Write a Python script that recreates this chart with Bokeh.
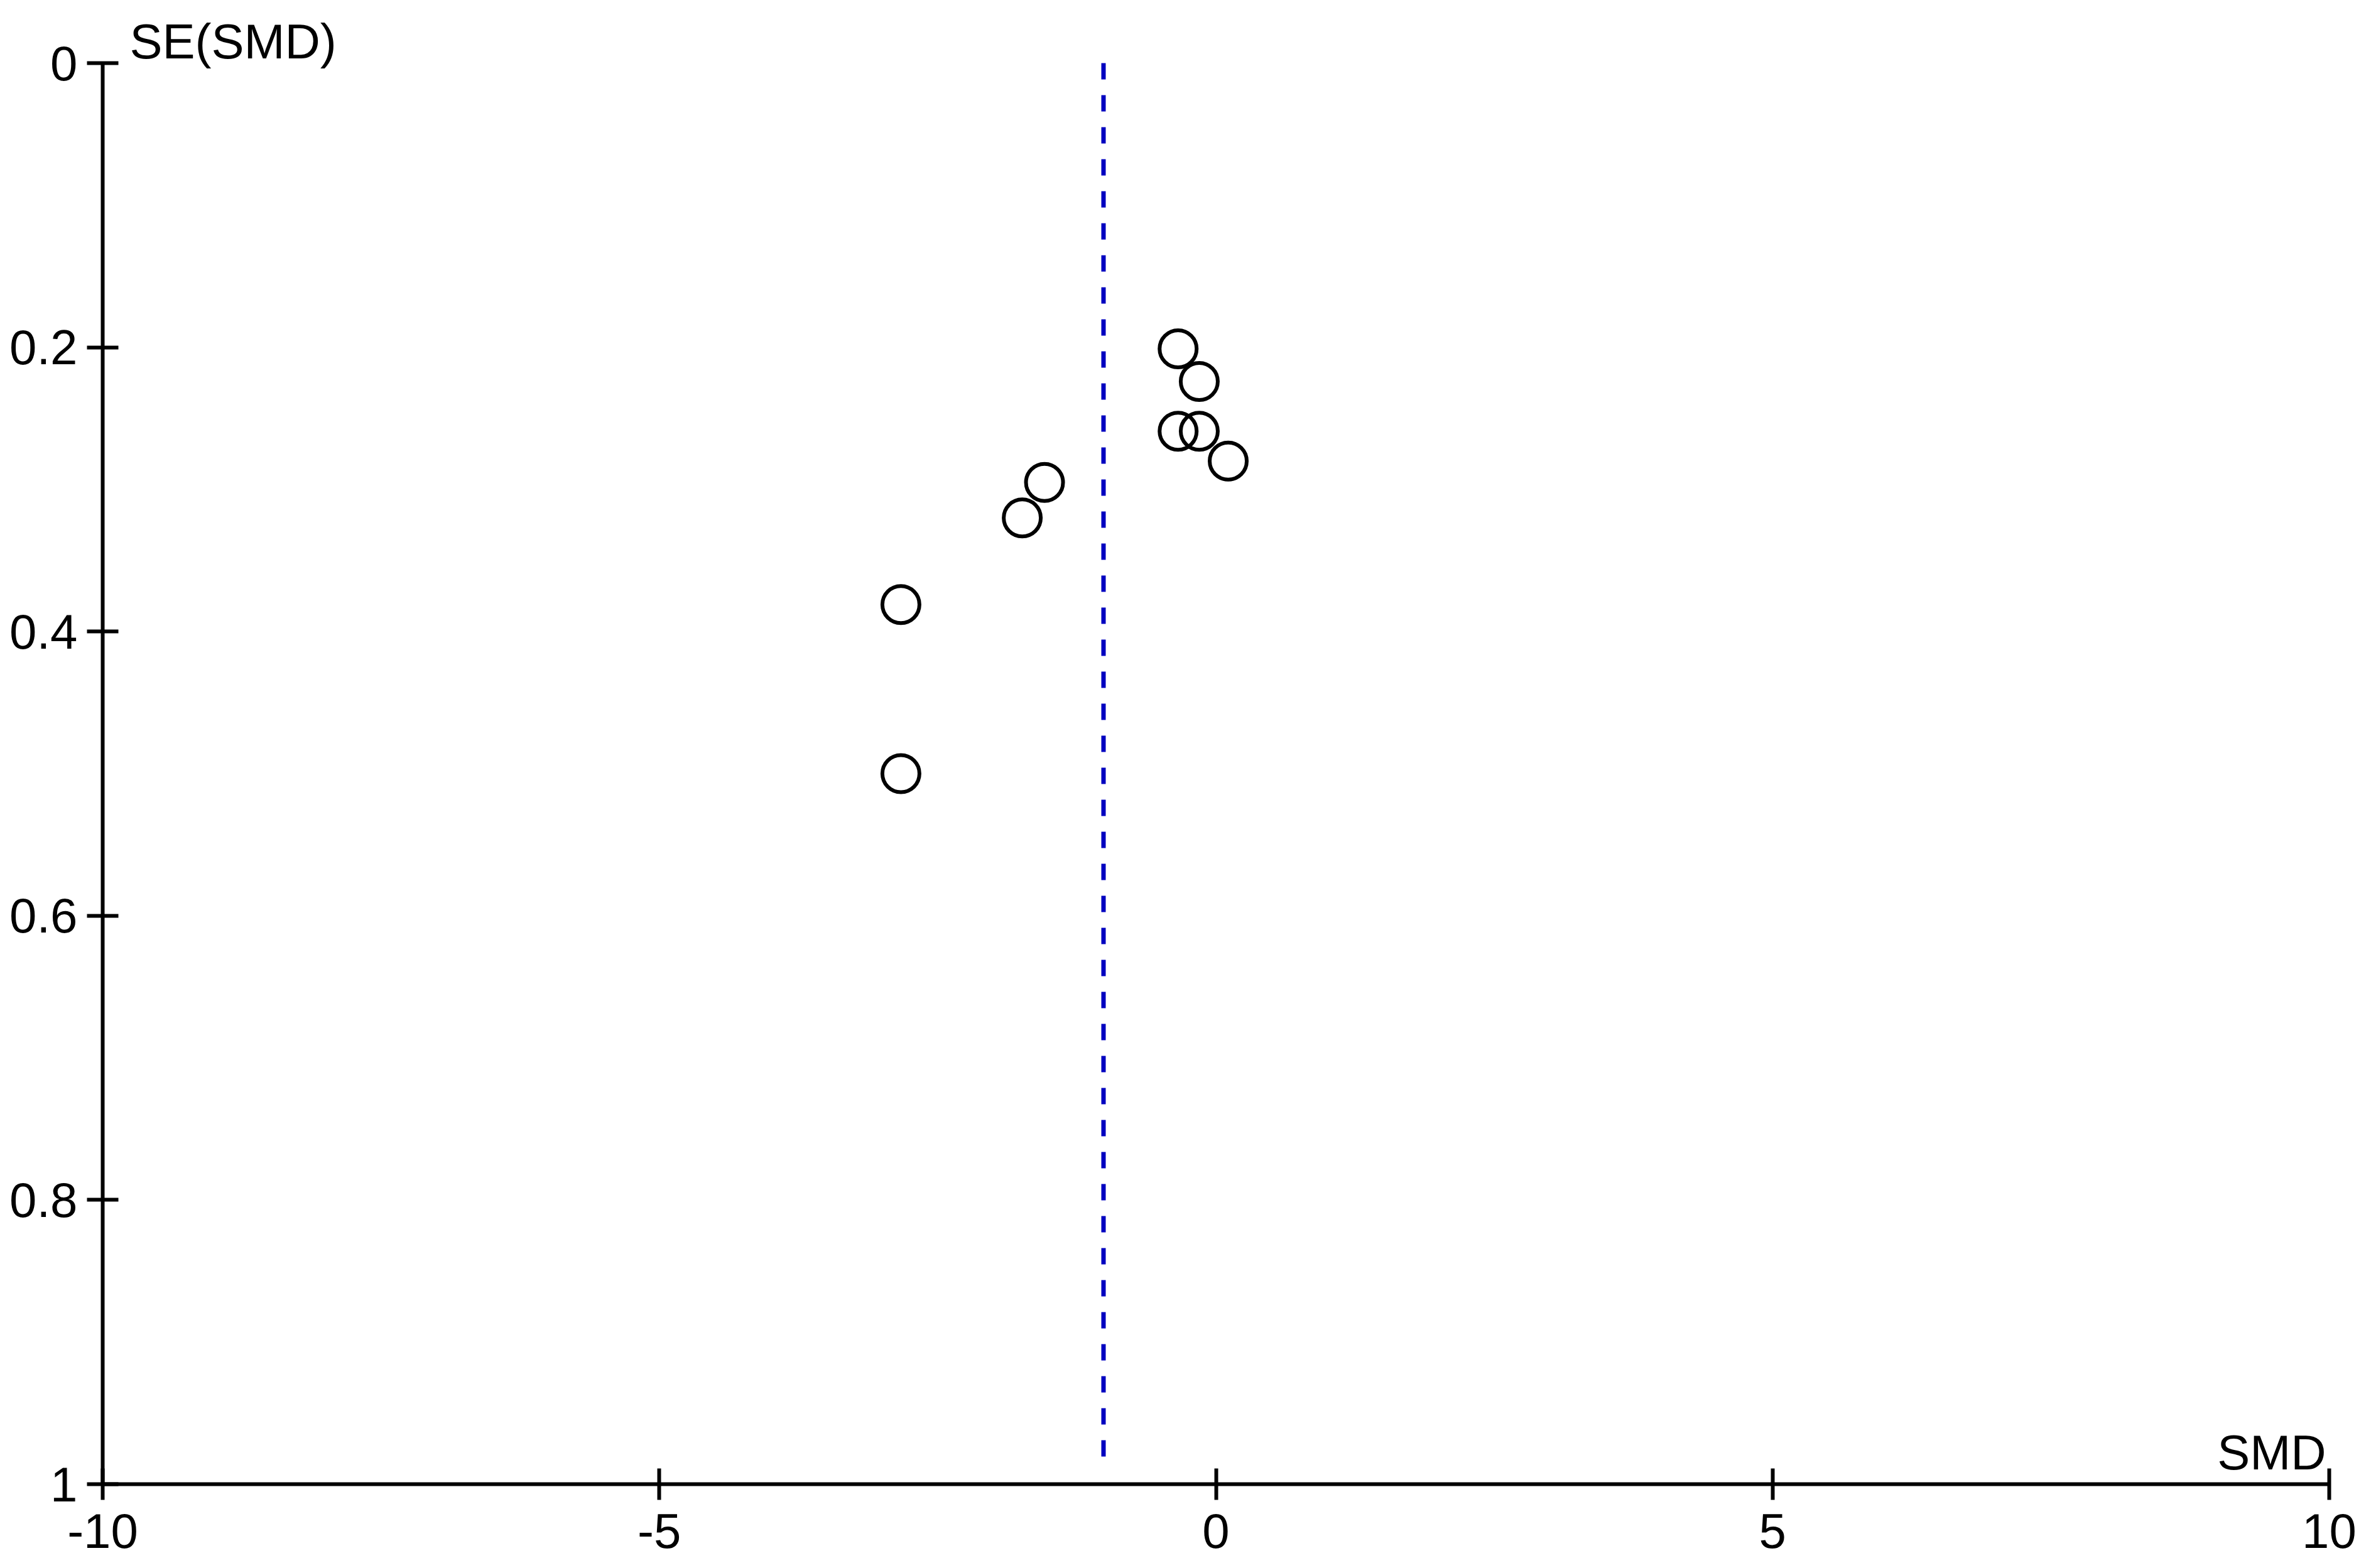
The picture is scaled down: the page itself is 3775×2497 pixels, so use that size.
from bokeh.plotting import figure
from bokeh.models import FixedTicker, Label, Range1d, ColumnDataSource
from bokeh.embed import file_html
from bokeh.resources import INLINE

# Data
smd = [-0.34, -0.15, -0.34, -0.15, 0.11, -1.54, -1.74, -2.83, -2.83]
se_smd = [0.201, 0.224, 0.259, 0.259, 0.280, 0.295, 0.320, 0.381, 0.500]
pooled_smd = -1.01
pooled_line_se = [0.0, 0.99]

x_ticks = [-10, -5, 0, 5, 10]
x_tick_labels = ["-10", "-5", "0", "5", "10"]
y_ticks = [0, 0.2, 0.4, 0.6, 0.8, 1]
y_tick_labels = ["0", "0.2", "0.4", "0.6", "0.8", "1"]

FONT = "Liberation Sans"
FS = "78px"

# y range extends slightly above 0 so the "SE(SMD)" label sits inside the frame;
# the axis itself is bounded to 0..1
p = figure(width=3759, height=2481, output_backend="svg", toolbar_location=None,
           x_range=Range1d(-10, 10), y_range=Range1d(1, -0.0354),
           min_border_left=163, min_border_right=51, min_border_top=20, min_border_bottom=118)
p.grid.visible = False
p.outline_line_color = None
p.background_fill_color = "white"
p.border_fill_color = "white"

for ax, ticks, labels in ((p.xaxis[0], x_ticks, x_tick_labels), (p.yaxis[0], y_ticks, y_tick_labels)):
    ax.ticker = FixedTicker(ticks=ticks)
    ax.major_label_overrides = {t: l for t, l in zip(ticks, labels)}
    ax.minor_tick_line_color = None
    ax.axis_line_width = 6
    ax.axis_line_color = "black"
    ax.major_tick_line_width = 6
    ax.major_tick_line_color = "black"
    ax.major_tick_in = 25
    ax.major_tick_out = 25
    ax.major_label_text_font = FONT
    ax.major_label_text_font_size = FS
    ax.major_label_text_color = "black"

p.yaxis[0].bounds = (0, 1)
p.xaxis[0].major_label_standoff = 22
p.yaxis[0].major_label_standoff = 15

src = ColumnDataSource(dict(x=smd, y=se_smd))
p.scatter("x", "y", source=src, marker="circle", size=59, fill_color=None,
          line_color="black", line_width=6)

p.line([pooled_smd, pooled_smd], pooled_line_se, line_color="#0000C0", line_width=7,
       line_dash="26 25")

p.add_layout(Label(x=-10, y=0, text="SE(SMD)", x_offset=43, y_offset=-9,
                   text_align="left", text_baseline="bottom",
                   text_font=FONT, text_font_size=FS, text_color="black"))
p.add_layout(Label(x=10, y=1, text="SMD", x_offset=-5, y_offset=7,
                   text_align="right", text_baseline="bottom",
                   text_font=FONT, text_font_size=FS, text_color="black"))

open("out.html", "w").write(file_html(p, INLINE))
